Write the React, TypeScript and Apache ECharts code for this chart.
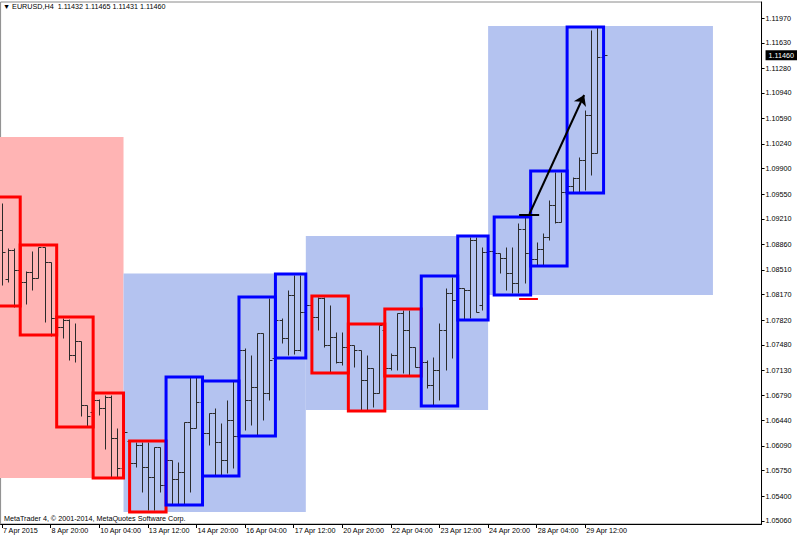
import React, { useEffect, useRef } from 'react';
import * as echarts from 'echarts';

// ---------- data ----------
const SYMBOL = 'EURUSD,H4';
const COPYRIGHT = 'MetaTrader 4, © 2001-2014, MetaQuotes Software Corp.';

// H4 bars, index 0 = 7 Apr 2015 12:00
const OPEN = [
  1.09057, 1.08384, 1.08782, 1.08508, 1.08343, 1.08480, 1.08398, 1.08824, 1.08618, 1.07848,
  1.07725, 1.07821, 1.07340, 1.07532, 1.06653, 1.06557, 1.06722, 1.06612, 1.06763, 1.06200,
  1.05788, 1.06159, 1.05856, 1.06104, 1.05801, 1.05664, 1.06076, 1.05554, 1.05898, 1.05637,
  1.05733, 1.06420, 1.06337, 1.06694, 1.06268, 1.06543, 1.06145, 1.05898, 1.06447, 1.06227,
  1.07409, 1.06722, 1.06900, 1.07642, 1.06818, 1.07299, 1.07821, 1.07574, 1.08164, 1.07409,
  1.07931, 1.08027, 1.07862, 1.08123, 1.07477, 1.07587, 1.07244, 1.07450, 1.07477, 1.07409,
  1.06997, 1.07161, 1.06818, 1.07683, 1.07161, 1.07340, 1.07917, 1.07683, 1.07450, 1.07175,
  1.07244, 1.06928, 1.07134, 1.07683, 1.08192, 1.08096, 1.08260, 1.08233, 1.08920, 1.08027,
  1.08755, 1.08769, 1.08741, 1.08673, 1.08467, 1.08329, 1.09071, 1.08741, 1.08659, 1.08796,
  1.08961, 1.09401, 1.09167, 1.09579, 1.09662, 1.09772, 1.10019, 1.10637, 1.10115, 1.11432,
];
const HIGH = [
  1.09428, 1.08810, 1.08810, 1.08576, 1.08494, 1.08769, 1.08824, 1.08824, 1.08618, 1.07862,
  1.07848, 1.07835, 1.07780, 1.07532, 1.06653, 1.06736, 1.06736, 1.06790, 1.06790, 1.06337,
  1.06337, 1.06159, 1.06145, 1.06145, 1.06145, 1.06076, 1.06076, 1.05911, 1.05898, 1.05870,
  1.06420, 1.07038, 1.07038, 1.06749, 1.06543, 1.06612, 1.06406, 1.06722, 1.06983, 1.07436,
  1.07436, 1.07340, 1.07642, 1.07642, 1.08123, 1.07848, 1.07848, 1.08233, 1.08439, 1.08439,
  1.08096, 1.08151, 1.08137, 1.08137, 1.08027, 1.07656, 1.07656, 1.07546, 1.07477, 1.07409,
  1.07340, 1.07161, 1.07752, 1.07752, 1.07368, 1.07917, 1.07958, 1.07958, 1.07450, 1.07340,
  1.07271, 1.07313, 1.07780, 1.08260, 1.08412, 1.08302, 1.08260, 1.08961, 1.08961, 1.08824,
  1.08810, 1.08824, 1.08741, 1.08824, 1.08824, 1.09153, 1.09236, 1.08920, 1.08892, 1.09016,
  1.09469, 1.09854, 1.09854, 1.09813, 1.09785, 1.10060, 1.10706, 1.11805, 1.11846, 1.11465,
];
const LOW = [
  1.08302, 1.08343, 1.07999, 1.08233, 1.08041, 1.08233, 1.08398, 1.07793, 1.07601, 1.07574,
  1.07574, 1.07271, 1.07244, 1.06502, 1.06351, 1.06502, 1.06516, 1.06049, 1.05650, 1.05650,
  1.05691, 1.05829, 1.05801, 1.05458, 1.05211, 1.05211, 1.05458, 1.05485, 1.05293, 1.05293,
  1.05293, 1.05458, 1.06337, 1.06227, 1.06104, 1.05691, 1.05691, 1.05719, 1.05788, 1.06227,
  1.06310, 1.06378, 1.06227, 1.06447, 1.06722, 1.07299, 1.07505, 1.07340, 1.07354, 1.07395,
  1.07848, 1.07821, 1.07683, 1.07450, 1.07106, 1.07230, 1.07203, 1.07271, 1.07175, 1.06584,
  1.06584, 1.06626, 1.06818, 1.07106, 1.07134, 1.07134, 1.07093, 1.07065, 1.07175, 1.07106,
  1.06887, 1.06653, 1.06722, 1.07134, 1.07299, 1.07821, 1.07821, 1.07848, 1.07931, 1.07958,
  1.08673, 1.08618, 1.08467, 1.08233, 1.08192, 1.08192, 1.08329, 1.08618, 1.08576, 1.08576,
  1.08920, 1.09153, 1.09167, 1.09566, 1.09579, 1.09579, 1.09607, 1.09813, 1.10115, 1.11431,
];
const CLOSE = [
  1.08755, 1.08782, 1.08508, 1.08343, 1.08480, 1.08398, 1.08824, 1.08618, 1.07848, 1.07725,
  1.07821, 1.07340, 1.07532, 1.06653, 1.06502, 1.06722, 1.06612, 1.06763, 1.06200, 1.05788,
  1.06282, 1.05856, 1.06104, 1.05801, 1.05664, 1.06076, 1.05554, 1.05898, 1.05637, 1.05733,
  1.06420, 1.06337, 1.06694, 1.06268, 1.06543, 1.06145, 1.05898, 1.06447, 1.06227, 1.07409,
  1.06722, 1.06900, 1.07642, 1.06818, 1.07271, 1.07821, 1.07574, 1.08164, 1.07409, 1.07931,
  1.08027, 1.07862, 1.08123, 1.07477, 1.07587, 1.07244, 1.07450, 1.07477, 1.07409, 1.06997,
  1.07161, 1.06818, 1.07752, 1.07161, 1.07340, 1.07917, 1.07683, 1.07450, 1.07175, 1.07244,
  1.06928, 1.07134, 1.07683, 1.08192, 1.08096, 1.08260, 1.08233, 1.08920, 1.07931, 1.08755,
  1.08769, 1.08741, 1.08673, 1.08467, 1.08329, 1.09071, 1.08741, 1.08659, 1.08796, 1.08961,
  1.09401, 1.09167, 1.09579, 1.09662, 1.09772, 1.10019, 1.10637, 1.10115, 1.11434, 1.11460,
];

// daily boxes (bar-index start/end, high, low, direction)
const DAY_START = [-3, 3, 9, 15, 21, 27, 33, 39, 45, 51, 57, 63, 69, 75, 81, 87, 93];
const DAY_END = [3, 9, 15, 20, 27, 33, 39, 45, 50, 57, 63, 69, 75, 80, 87, 93, 99];
const DAY_HIGH = [1.09511, 1.08851, 1.07862, 1.06818, 1.06158, 1.07038, 1.06983, 1.08137, 1.08453,
  1.08151, 1.07766, 1.07972, 1.08425, 1.08975, 1.09236, 1.09868, 1.11846];
const DAY_LOW = [1.08013, 1.07615, 1.06351, 1.05650, 1.05183, 1.05279, 1.05678, 1.06227, 1.07299,
  1.07093, 1.06571, 1.07052, 1.06639, 1.07821, 1.08164, 1.08563, 1.09566];
const DAY_DIR = ['down', 'down', 'down', 'down', 'down', 'up', 'up', 'up', 'up',
  'down', 'down', 'down', 'up', 'up', 'up', 'up', 'up'];

// weekly shaded ranges
const WEEK_START = [-20, 20, 50, 80];
const WEEK_END = [20, 50, 80, 117];
const WEEK_HIGH = [1.10335, 1.08460, 1.08975, 1.11860];
const WEEK_LOW = [1.05650, 1.05183, 1.06584, 1.08164];
const WEEK_DIR = ['down', 'up', 'up', 'up'];

// drawn objects
const HIGH_MARK = { from: 85.1, to: 88.4, price: 1.09263 };
const LOW_MARK = { from: 85.1, to: 88.2, price: 1.08110 };
const ARROW_FROM = [86.8, 1.09277];
const ARROW_TO = [95.8, 1.10912];

// axes
const X_TICK_BARS = [0, 8, 16, 24, 32, 40, 48, 56, 64, 72, 80, 88, 96];
const X_LABELS = ['7 Apr 2015', '8 Apr 20:00', '10 Apr 04:00', '13 Apr 12:00', '14 Apr 20:00',
  '16 Apr 04:00', '17 Apr 12:00', '20 Apr 20:00', '22 Apr 04:00', '23 Apr 12:00',
  '24 Apr 20:00', '28 Apr 04:00', '29 Apr 12:00'];
const Y_TICKS = [1.05060, 1.05400, 1.05750, 1.06090, 1.06440, 1.06790, 1.07130, 1.07480, 1.07820,
  1.08170, 1.08510, 1.08860, 1.09210, 1.09550, 1.09900, 1.10240, 1.10590, 1.10940, 1.11280,
  1.11630, 1.11970];
const CURRENT_PRICE = 1.11460;

// ---------- styles ----------
const FONT = '"Liberation Sans", Arial, sans-serif';
const BAR_COLOR = '#2a2a2a';
const DIR_BOX = { up: '#0000ff', down: '#ff0000' };
const DIR_FILL = { up: '#b4c3f0', down: '#ffb4b4' };

export default function App() {
  const ref = useRef<HTMLDivElement>(null);

  useEffect(() => {
    const chart = echarts.init(ref.current!, null, { renderer: 'svg' });
    const last = OPEN.length - 1;
    const lastText = [OPEN[last], HIGH[last], LOW[last], CLOSE[last]].map((v) => v.toFixed(5)).join(' ');

    const rectItem = (api: any, dir: string, filled: boolean) => {
      const p0 = api.coord([api.value(0), api.value(2)]);
      const p1 = api.coord([api.value(1), api.value(3)]);
      return {
        type: 'rect',
        shape: { x: p0[0], y: p0[1], width: p1[0] - p0[0], height: p1[1] - p0[1] },
        style: filled
          ? { fill: (DIR_FILL as any)[dir], stroke: 'none' }
          : { fill: 'none', stroke: (DIR_BOX as any)[dir], lineWidth: 3 },
      };
    };

    const option: any = {
      animation: false,
      backgroundColor: '#ffffff',
      title: [
        {
          text: `▼ ${SYMBOL}  ${lastText}`,
          left: 3, top: 3, padding: 0,
          textStyle: { fontSize: 7.2, fontWeight: 'normal', color: '#000', fontFamily: FONT },
        },
        {
          text: COPYRIGHT,
          left: 4, top: 515, padding: 0,
          textStyle: { fontSize: 7.2, fontWeight: 'normal', color: '#000', fontFamily: FONT },
        },
      ],
      grid: {
        left: 0, right: 33, top: 2, bottom: 15,
        show: true, borderColor: '#8a8a8a', borderWidth: 1, backgroundColor: 'transparent',
      },
      xAxis: {
        type: 'value',
        min: -0.23,
        max: 125.0,
        position: 'bottom',
        splitLine: { show: false },
        axisLine: { show: true, onZero: false, lineStyle: { color: '#000', width: 1 } },
        axisTick: { show: true, customValues: X_TICK_BARS, length: 4, lineStyle: { color: '#000' } },
        axisLabel: {
          customValues: X_TICK_BARS,
          formatter: (v: number) => X_LABELS[X_TICK_BARS.indexOf(Math.round(v))] ?? '',
          align: 'left',
          margin: 3,
          fontSize: 7.2,
          color: '#000',
          fontFamily: FONT,
          padding: [0, 0, 0, 1],
        },
      },
      yAxis: {
        type: 'value',
        position: 'right',
        min: 1.05018,
        max: 1.1219,
        scale: true,
        splitLine: { show: false },
        axisLine: { show: true, onZero: false, lineStyle: { color: '#000', width: 1 } },
        axisTick: { show: true, customValues: Y_TICKS, length: 3, lineStyle: { color: '#000' } },
        axisLabel: {
          customValues: [...Y_TICKS, CURRENT_PRICE],
          formatter: (v: number) =>
            Math.abs(v - CURRENT_PRICE) < 1e-7 ? `{cur|${v.toFixed(5)}}` : v.toFixed(5),
          margin: 4,
          fontSize: 7.2,
          color: '#000',
          fontFamily: FONT,
          rich: {
            cur: {
              backgroundColor: '#000', color: '#fff', fontSize: 7.2, fontFamily: FONT,
              padding: [2, 3, 1, 3],
            },
          },
        },
      },
      series: [
        {
          type: 'custom',
          name: 'weeks',
          z: 1,
          silent: true,
          clip: true,
          encode: { x: [0, 1], y: [2, 3] },
          data: WEEK_START.map((s, i) => [s, WEEK_END[i], WEEK_HIGH[i], WEEK_LOW[i]]),
          renderItem: (params: any, api: any) => rectItem(api, WEEK_DIR[params.dataIndex], true),
        },
        {
          type: 'custom',
          name: 'bars',
          z: 2,
          silent: true,
          clip: true,
          encode: { x: 0, y: [1, 2, 3, 4] },
          data: OPEN.map((o, i) => [i, o, HIGH[i], LOW[i], CLOSE[i]]),
          renderItem: (_params: any, api: any) => {
            const i = api.value(0);
            const po = api.coord([i, api.value(1)]);
            const ph = api.coord([i, api.value(2)]);
            const pl = api.coord([i, api.value(3)]);
            const pc = api.coord([i, api.value(4)]);
            const x = Math.round(po[0]) + 0.5;
            const r = (v: number) => Math.round(v) + 0.5;
            const style = { stroke: BAR_COLOR, lineWidth: 1 };
            return {
              type: 'group',
              children: [
                { type: 'line', shape: { x1: x, y1: r(ph[1]), x2: x, y2: r(pl[1]) + 0.01 }, style },
                { type: 'line', shape: { x1: x - 3, y1: r(po[1]), x2: x, y2: r(po[1]) }, style },
                { type: 'line', shape: { x1: x, y1: r(pc[1]), x2: x + 3, y2: r(pc[1]) }, style },
              ],
            };
          },
        },
        {
          type: 'custom',
          name: 'days',
          z: 3,
          silent: true,
          clip: true,
          encode: { x: [0, 1], y: [2, 3] },
          data: DAY_START.map((s, i) => [s, DAY_END[i], DAY_HIGH[i], DAY_LOW[i]]),
          renderItem: (params: any, api: any) => rectItem(api, DAY_DIR[params.dataIndex], false),
        },
        {
          type: 'lines',
          name: 'marks',
          coordinateSystem: 'cartesian2d',
          z: 4,
          silent: true,
          symbol: 'none',
          data: [
            { coords: [[HIGH_MARK.from, HIGH_MARK.price], [HIGH_MARK.to, HIGH_MARK.price]], lineStyle: { color: '#000', width: 2, opacity: 1 } },
            { coords: [[LOW_MARK.from, LOW_MARK.price], [LOW_MARK.to, LOW_MARK.price]], lineStyle: { color: '#ff0000', width: 2, opacity: 1 } },
          ],
        },
        {
          type: 'lines',
          name: 'arrow',
          coordinateSystem: 'cartesian2d',
          z: 5,
          silent: true,
          symbol: ['none', 'arrow'],
          symbolSize: 10,
          lineStyle: { color: '#000', width: 2, opacity: 1, curveness: 0 },
          data: [{ coords: [ARROW_FROM, ARROW_TO] }],
        },
      ],
    };

    chart.setOption(option);
    return () => chart.dispose();
  }, []);

  return (
    <div
      ref={ref}
      style={{ position: 'fixed', left: 0, top: 0, width: 800, height: 539, background: '#fff' }}
    />
  );
}
